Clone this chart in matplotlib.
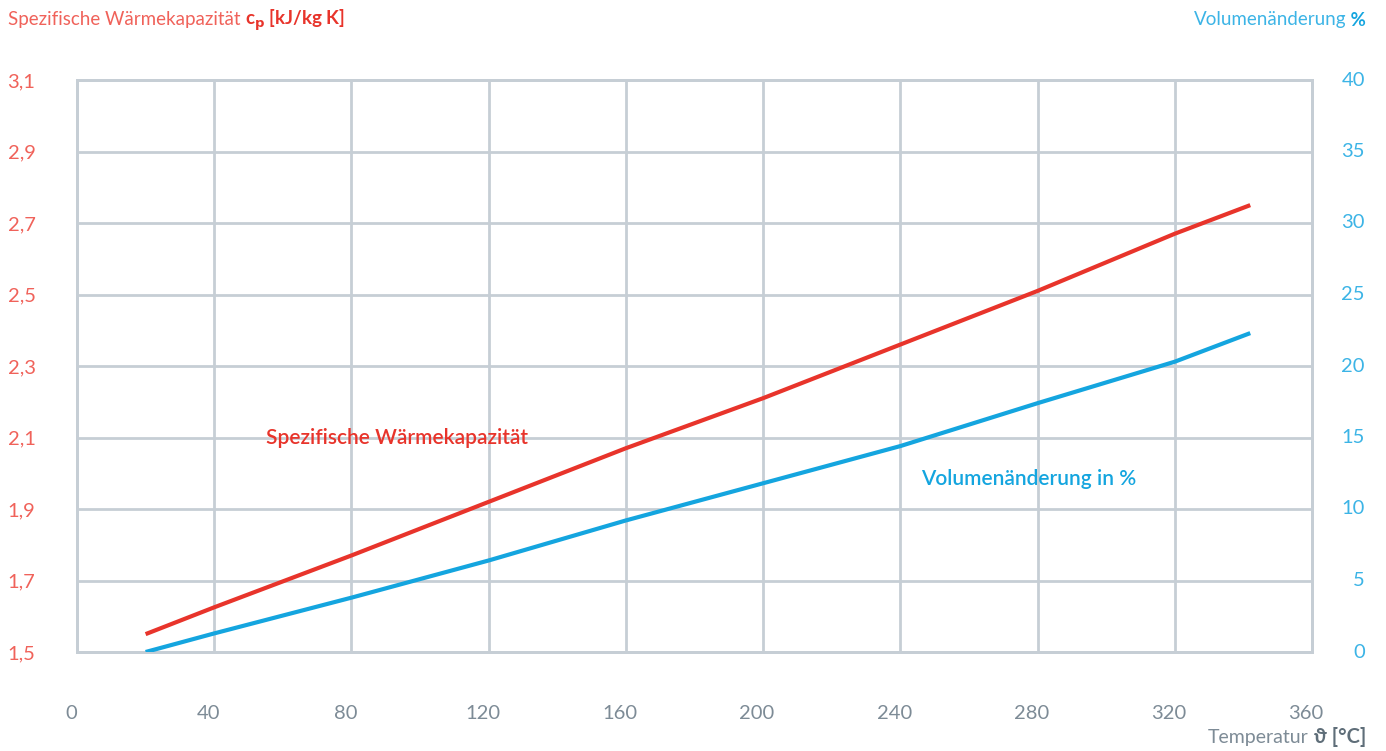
import numpy as np
import matplotlib
matplotlib.use("Agg")
import matplotlib.pyplot as plt
import matplotlib.transforms as mtransforms
from matplotlib.ticker import FuncFormatter

# data
temp = [20, 40, 80, 120, 160, 200, 240, 280, 320, 342]
cp = [1.55, 1.625, 1.77, 1.92, 2.07, 2.21, 2.36, 2.51, 2.67, 2.75]
vol = [0.0, 1.3, 3.8, 6.4, 9.2, 11.8, 14.4, 17.4, 20.3, 22.3]

x_ticks = list(range(0, 361, 40))
cp_ticks = [1.5, 1.7, 1.9, 2.1, 2.3, 2.5, 2.7, 2.9, 3.1]
vol_ticks = list(range(0, 41, 5))

RED = "#e8342b"
RED_L = "#f0625a"
BLUE = "#14a5df"
BLUE_L = "#3cb4e6"
GRID = "#c6ced5"
GRAY = "#7d8b96"
FONT = ["Lato", "DejaVu Sans"]

plt.rcParams["font.family"] = FONT

fig = plt.figure(figsize=(13.86, 7.51), dpi=100)
ax = fig.add_axes([77 / 1386, 99 / 751, 1235 / 1386, 572 / 751])
ax2 = ax.twinx()

ax.set_xlim(0, 360)
ax.set_ylim(1.5, 3.1)
ax2.set_ylim(0, 40)

ax.set_xticks(x_ticks)
ax.set_yticks(cp_ticks)
ax2.set_yticks(vol_ticks)
ax.yaxis.set_major_formatter(FuncFormatter(lambda v, p: f"{v:.1f}".replace(".", ",")))

ax.grid(True, color=GRID, lw=2)
for a in (ax, ax2):
    for s in a.spines.values():
        s.set_color(GRID)
        s.set_linewidth(2)
ax.set_axisbelow(True)

ax.tick_params(axis="x", length=0, pad=38, labelsize=14.5, labelcolor=GRAY)
ax.tick_params(axis="y", length=0, pad=50, labelsize=14.5, labelcolor=RED_L)
ax2.tick_params(axis="y", length=0, labelright=False)

shift = mtransforms.ScaledTranslation(-6 / 100, 0, fig.dpi_scale_trans)
for lbl in ax.get_xticklabels():
    lbl.set_transform(lbl.get_transform() + shift)
for lbl in ax.get_yticklabels():
    lbl.set_horizontalalignment("left")

# right-hand tick labels, right aligned near the figure edge
rtrans = mtransforms.blended_transform_factory(fig.transFigure, ax2.transData)
for v in vol_ticks:
    ax2.text(1365 / 1386, v, str(v), transform=rtrans, color=BLUE_L,
             fontsize=14.5, ha="right", va="center", clip_on=False)

ax.plot(temp, cp, color=RED, lw=3, solid_capstyle="butt", zorder=3)
ax2.plot(temp, vol, color=BLUE, lw=3, solid_capstyle="butt", zorder=3)

ax.text(55, 2.1, "Spezifische Wärmekapazität", color=RED, fontsize=15,
        fontweight="semibold", va="center", ha="left")
ax2.text(246, 12.1, "Volumenänderung in %", color=BLUE, fontsize=15,
         fontweight="semibold", va="center", ha="left")

# axis titles
t = fig.text(8 / 1386, 1 - 20 / 751, "Spezifische Wärmekapazität ", color=RED_L,
             fontsize=13.5, va="center", ha="left")
fig.canvas.draw()
bb = t.get_window_extent()
fig.text(bb.x1 / 1386, 1 - 20 / 751, r"c$_\mathbf{p}$ [kJ/kg K]", color=RED,
         fontsize=13.5, fontweight="bold", va="center", ha="left")

r1 = fig.text(1366 / 1386, 1 - 20 / 751, " %", color=BLUE, fontsize=13.5,
              fontweight="bold", va="center", ha="right")
fig.canvas.draw()
bb = r1.get_window_extent()
fig.text(bb.x0 / 1386, 1 - 20 / 751, "Volumenänderung", color=BLUE_L, fontsize=13.5,
         va="center", ha="right")

b1 = fig.text(1366 / 1386, 1 - 737 / 751, " ϑ [°C]", color="#5f6e79", fontsize=14.5,
              fontweight="bold", va="center", ha="right",
              family=["Lato", "DejaVu Sans"])
fig.canvas.draw()
bb = b1.get_window_extent()
fig.text(bb.x0 / 1386, 1 - 737 / 751, "Temperatur", color=GRAY, fontsize=14,
         va="center", ha="right")

fig.savefig("out.png", dpi=100)
